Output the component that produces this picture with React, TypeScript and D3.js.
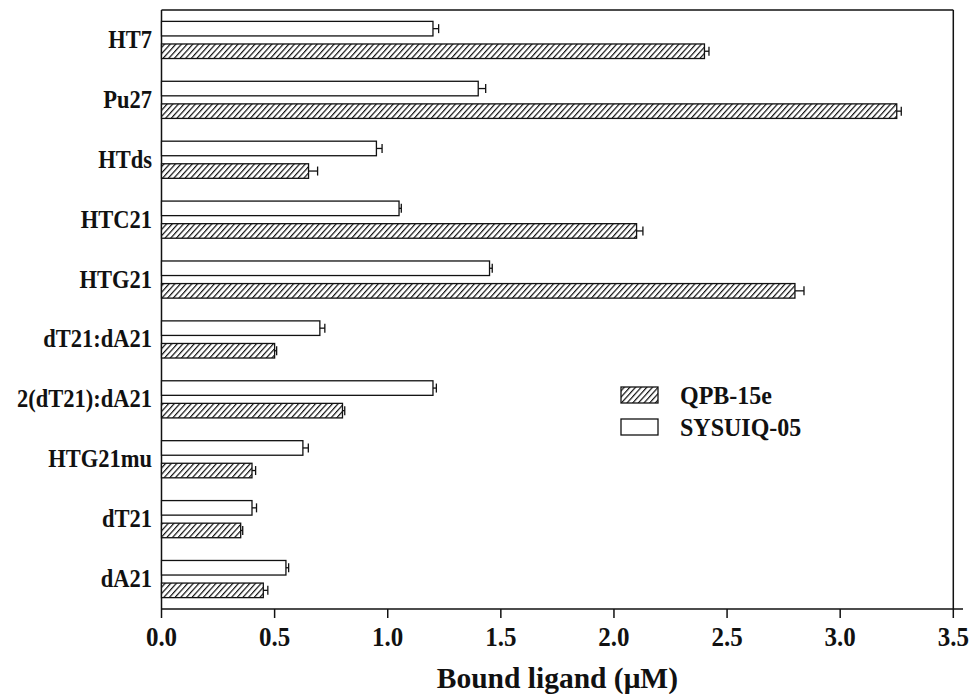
import React from "react";
import * as d3 from "d3";

const categories = ["HT7", "Pu27", "HTds", "HTC21", "HTG21", "dT21:dA21", "2(dT21):dA21", "HTG21mu", "dT21", "dA21"];
const seriesNames = ["SYSUIQ-05", "QPB-15e"];
const sysuiqValues = [1.2, 1.4, 0.95, 1.05, 1.45, 0.7, 1.2, 0.625, 0.4, 0.55];
const sysuiqErrors = [0.025, 0.033, 0.025, 0.01, 0.012, 0.022, 0.015, 0.024, 0.02, 0.012];
const qpbValues = [2.4, 3.25, 0.65, 2.1, 2.8, 0.5, 0.8, 0.4, 0.35, 0.45];
const qpbErrors = [0.02, 0.02, 0.04, 0.028, 0.04, 0.009, 0.01, 0.016, 0.009, 0.02];
const xTicks = [0, 0.5, 1.0, 1.5, 2.0, 2.5, 3.0, 3.5];

const FONT = "'Liberation Serif', 'Times New Roman', serif";

function T({ x, y, size, sy = 1, anchor = "start", children }: any) {
  return (
    <g transform={`translate(${x},${y}) scale(1,${sy})`}>
      <text x={0} y={0} textAnchor={anchor} fontFamily={FONT} fontWeight="bold" fontSize={size} fill="#111">
        {children}
      </text>
    </g>
  );
}

export default function App() {
  const left = 161.5, right = 953.3, top = 10, bottom = 609;
  const x = d3.scaleLinear().domain([0, 3.5]).range([left, right]);
  const y = d3.scaleBand<string>().domain(categories).range([top, bottom]).paddingInner(0.38).paddingOuter(0.19);
  const inner = d3.scaleBand<string>().domain(seriesNames).range([0, y.bandwidth()]).paddingInner(0.356);
  const bh = inner.bandwidth();

  const series = [
    { name: "SYSUIQ-05", values: sysuiqValues, errors: sysuiqErrors, fill: "#fff" },
    { name: "QPB-15e", values: qpbValues, errors: qpbErrors, fill: "url(#hatch)" },
  ];

  return (
    <svg width={972} height={694} style={{ position: "absolute", left: 0, top: 0, background: "#fff" }}>
      <defs>
        <pattern id="hatch" patternUnits="userSpaceOnUse" width={4.2} height={4.2} patternTransform="rotate(42)">
          <rect width={4.2} height={4.2} fill="#fff" />
          <line x1={0} y1={0} x2={0} y2={4.2} stroke="#111" strokeWidth={2.4} />
        </pattern>
      </defs>
      {/* frame */}
      <line x1={left} y1={top} x2={right} y2={top} stroke="#111" strokeWidth={1.5} />
      <line x1={right} y1={top} x2={right} y2={bottom} stroke="#111" strokeWidth={1.5} />
      <line x1={left} y1={top} x2={left} y2={bottom} stroke="#111" strokeWidth={1.5} />
      <line x1={left} y1={bottom} x2={963} y2={bottom} stroke="#111" strokeWidth={1.5} />
      {xTicks.map((t) => (
        <g key={t}>
          <line x1={x(t)} y1={bottom} x2={x(t)} y2={bottom + 9} stroke="#111" strokeWidth={1.5} />
          <T x={x(t)} y={646} size={25} sy={1.08} anchor="middle">{d3.format(".1f")(t)}</T>
        </g>
      ))}
      <T x={(left + right) / 2} y={688} size={29.5} sy={1.02} anchor="middle">Bound ligand (μM)</T>
      {categories.map((c) => (
        <T key={c} x={152} y={(y(c) as number) + y.bandwidth() / 2 + 8} size={22.5} sy={1.1} anchor="end">{c}</T>
      ))}
      {series.map((s) =>
        categories.map((c, i) => {
          const yy = (y(c) as number) + (inner(s.name) as number);
          const v = s.values[i];
          const e = s.errors[i];
          const cy = yy + bh / 2;
          return (
            <g key={s.name + c}>
              <rect x={x(0)} y={yy} width={x(v) - x(0)} height={bh} fill={s.fill} stroke="#111" strokeWidth={1.3} />
              <line x1={x(v)} y1={cy} x2={x(v + e)} y2={cy} stroke="#111" strokeWidth={1.3} />
              <line x1={x(v + e)} y1={cy - 4.5} x2={x(v + e)} y2={cy + 4.5} stroke="#111" strokeWidth={1.3} />
            </g>
          );
        })
      )}
      {/* legend */}
      <rect x={621} y={387} width={37} height={16} fill="url(#hatch)" stroke="#111" strokeWidth={1.3} />
      <T x={680} y={404} size={24} sy={1.05}>QPB-15e</T>
      <rect x={621} y={419} width={37} height={16} fill="#fff" stroke="#111" strokeWidth={1.3} />
      <T x={680} y={436} size={24} sy={1.05}>SYSUIQ-05</T>
    </svg>
  );
}
